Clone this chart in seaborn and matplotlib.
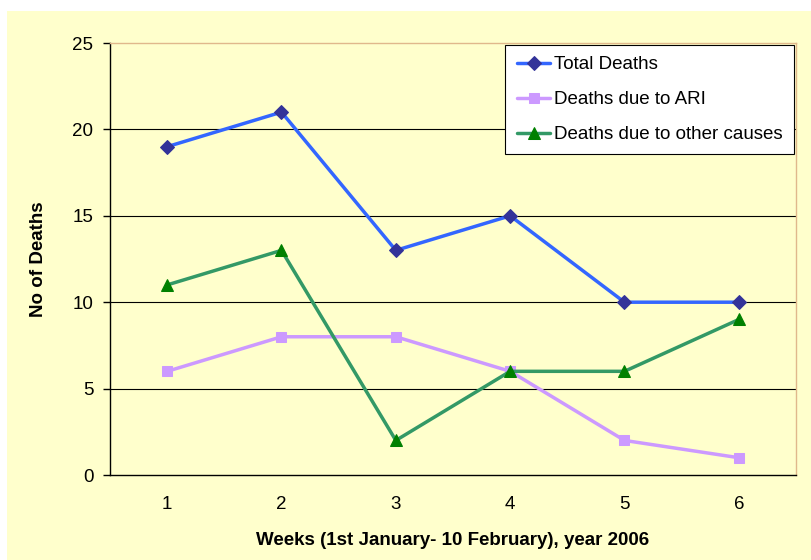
import matplotlib.pyplot as plt
import pandas as pd
import seaborn as sns
from matplotlib.patches import Rectangle

weeks = [1, 2, 3, 4, 5, 6]
total_deaths = [19, 21, 13, 15, 10, 10]
ari_deaths = [6, 8, 8, 6, 2, 1]
other_deaths = [11, 13, 2, 6, 6, 9]

series_names = ["Total Deaths", "Deaths due to ARI", "Deaths due to other causes"]

BG = "#FFFFCC"


def main():
    df = pd.DataFrame({
        "week": weeks * 3,
        "deaths": total_deaths + ari_deaths + other_deaths,
        "series": [s for s in series_names for _ in weeks],
    })

    sns.set_style("white")
    plt.rcParams["font.family"] = ["Liberation Sans", "DejaVu Sans"]
    plt.rcParams["text.color"] = "black"
    plt.rcParams["axes.labelcolor"] = "black"
    plt.rcParams["xtick.color"] = "black"
    plt.rcParams["ytick.color"] = "black"

    fig = plt.figure(figsize=(8.12, 5.6), dpi=100)
    fig.patch.set_facecolor("white")
    fig.patches.append(Rectangle((7 / 812, 0), 805 / 812, 549 / 560,
                                 transform=fig.transFigure, facecolor=BG,
                                 edgecolor="none", zorder=-10))
    ax = fig.add_axes([110 / 812, 85 / 560, 686 / 812, 432 / 560])
    ax.set_facecolor(BG)

    styles = {
        "Total Deaths": dict(color="#3366FF", marker="D", mfc="#333399", ms=7),
        "Deaths due to ARI": dict(color="#CC99FF", marker="s", mfc="#CC99FF", ms=7),
        "Deaths due to other causes": dict(color="#339966", marker="^", mfc="#008000", ms=8),
    }
    for name in series_names:
        st = styles[name]
        sub = df[df["series"] == name]
        sns.lineplot(data=sub, x="week", y="deaths", ax=ax, color=st["color"],
                     linewidth=2.5, marker=st["marker"], markersize=st["ms"],
                     markerfacecolor=st["mfc"], markeredgecolor=st["mfc"],
                     label=name, zorder=3)

    ax.set_xlim(0.5, 6.5)
    ax.set_ylim(0, 25)
    ax.set_yticks([0, 5, 10, 15, 20, 25])
    ax.set_xticks(weeks)
    ax.set_xticks([w + 0.5 for w in [0] + weeks], minor=True)
    ax.tick_params(axis="x", which="major", length=0, pad=15, labelsize=13.5)
    ax.tick_params(axis="x", which="minor", length=5, width=1, color="black",
                   direction="out")
    ax.tick_params(axis="y", length=5, width=1, color="black", direction="out",
                   left=True, pad=7, labelsize=13.5)
    for y in [5, 10, 15, 20]:
        ax.axhline(y, color="black", linewidth=0.8, zorder=1)

    for side in ["top", "right"]:
        ax.spines[side].set_color("#E0B88C")
        ax.spines[side].set_linewidth(1)
    for side in ["left", "bottom"]:
        ax.spines[side].set_color("black")
        ax.spines[side].set_linewidth(1)

    ax.set_xlabel("Weeks (1st January- 10 February), year 2006",
                  fontsize=13.5, fontweight="bold", labelpad=14)
    ax.set_ylabel("No of Deaths", fontsize=13.5, fontweight="bold", labelpad=18)

    leg = ax.legend(loc="upper right", bbox_to_anchor=(1.0, 1.0), fontsize=13.5,
                    frameon=True, fancybox=False, borderpad=0.6,
                    labelspacing=0.95, handlelength=1.8, handletextpad=0.2,
                    borderaxespad=0.1)
    leg.get_frame().set_edgecolor("black")
    leg.get_frame().set_facecolor("white")
    leg.get_frame().set_linewidth(0.8)
    leg.get_frame().set_alpha(1)

    fig.savefig("out.png", dpi=100, facecolor=fig.get_facecolor())
    plt.close(fig)


if __name__ == "__main__":
    main()
